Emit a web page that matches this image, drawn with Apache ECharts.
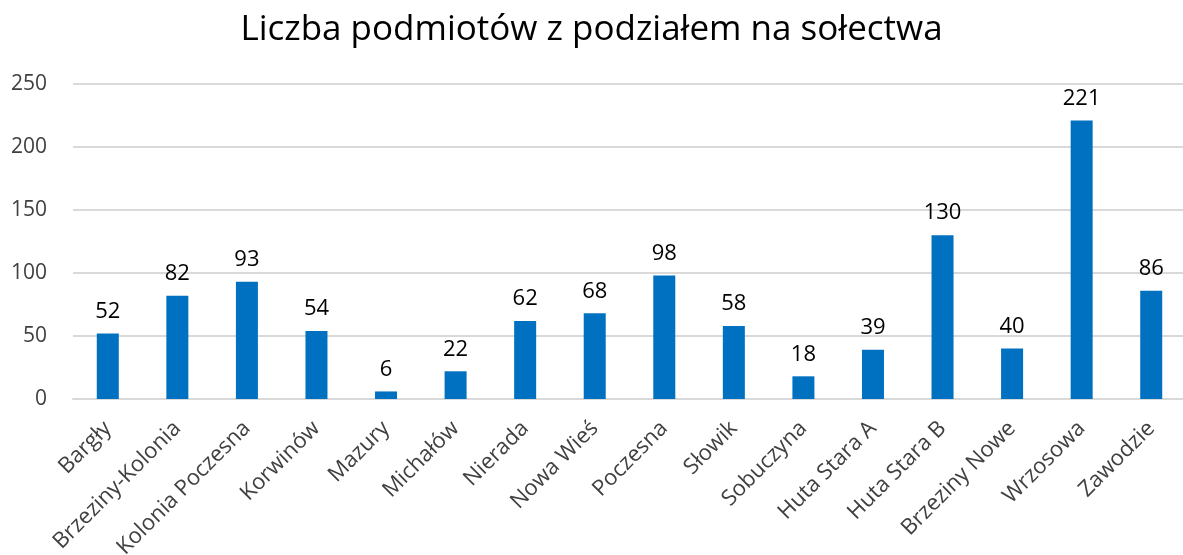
<!DOCTYPE html>
<html>
<head>
<meta charset="utf-8">
<script src="https://cdn.jsdelivr.net/npm/echarts@6/dist/echarts.min.js"></script>
<style>
  html, body { margin: 0; padding: 0; background: #fff; }
  #main { width: 1183px; height: 555px; }
</style>
</head>
<body>
<div id="main"></div>
<script>
const categories = ['Bargły', 'Brzeziny-Kolonia', 'Kolonia Poczesna', 'Korwinów', 'Mazury', 'Michałów',
  'Nierada', 'Nowa Wieś', 'Poczesna', 'Słowik', 'Sobuczyna', 'Huta Stara A', 'Huta Stara B',
  'Brzeziny Nowe', 'Wrzosowa', 'Zawodzie'];
const values = [52, 82, 93, 54, 6, 22, 62, 68, 98, 58, 18, 39, 130, 40, 221, 86];
const yTicks = [0, 50, 100, 150, 200, 250];

const font = '"Open Sans", "Noto Sans", sans-serif';
var myChart = echarts.init(document.getElementById('main'));
myChart.setOption({
  animation: false,
  title: {
    text: 'Liczba podmiotów z podziałem na sołectwa',
    left: 'center',
    top: 8,
    textStyle: { fontFamily: font, fontSize: 35, fontWeight: 'normal', color: '#000' }
  },
  grid: { left: 73, top: 84, width: 1113, height: 315, containLabel: false, outerBoundsMode: 'none' },
  xAxis: {
    type: 'category',
    data: categories,
    axisTick: { show: false },
    axisLine: { lineStyle: { color: '#d9d9d9', width: 2 } },
    axisLabel: {
      rotate: 45, interval: 0, margin: 26,
      fontFamily: font, fontSize: 22, color: '#404040'
    }
  },
  yAxis: {
    type: 'value',
    min: yTicks[0],
    max: yTicks[yTicks.length - 1],
    interval: 50,
    axisLine: { show: false },
    axisTick: { show: false },
    splitLine: { lineStyle: { color: '#d9d9d9', width: 2 } },
    axisLabel: { fontFamily: font, fontSize: 21, color: '#404040', margin: 26 }
  },
  series: [{
    type: 'bar',
    data: values,
    barWidth: 22,
    itemStyle: { color: '#0070c0' },
    label: {
      show: true, position: 'top', distance: 11,
      fontFamily: font, fontSize: 22, color: '#000'
    }
  }]
});
</script>
</body>
</html>
